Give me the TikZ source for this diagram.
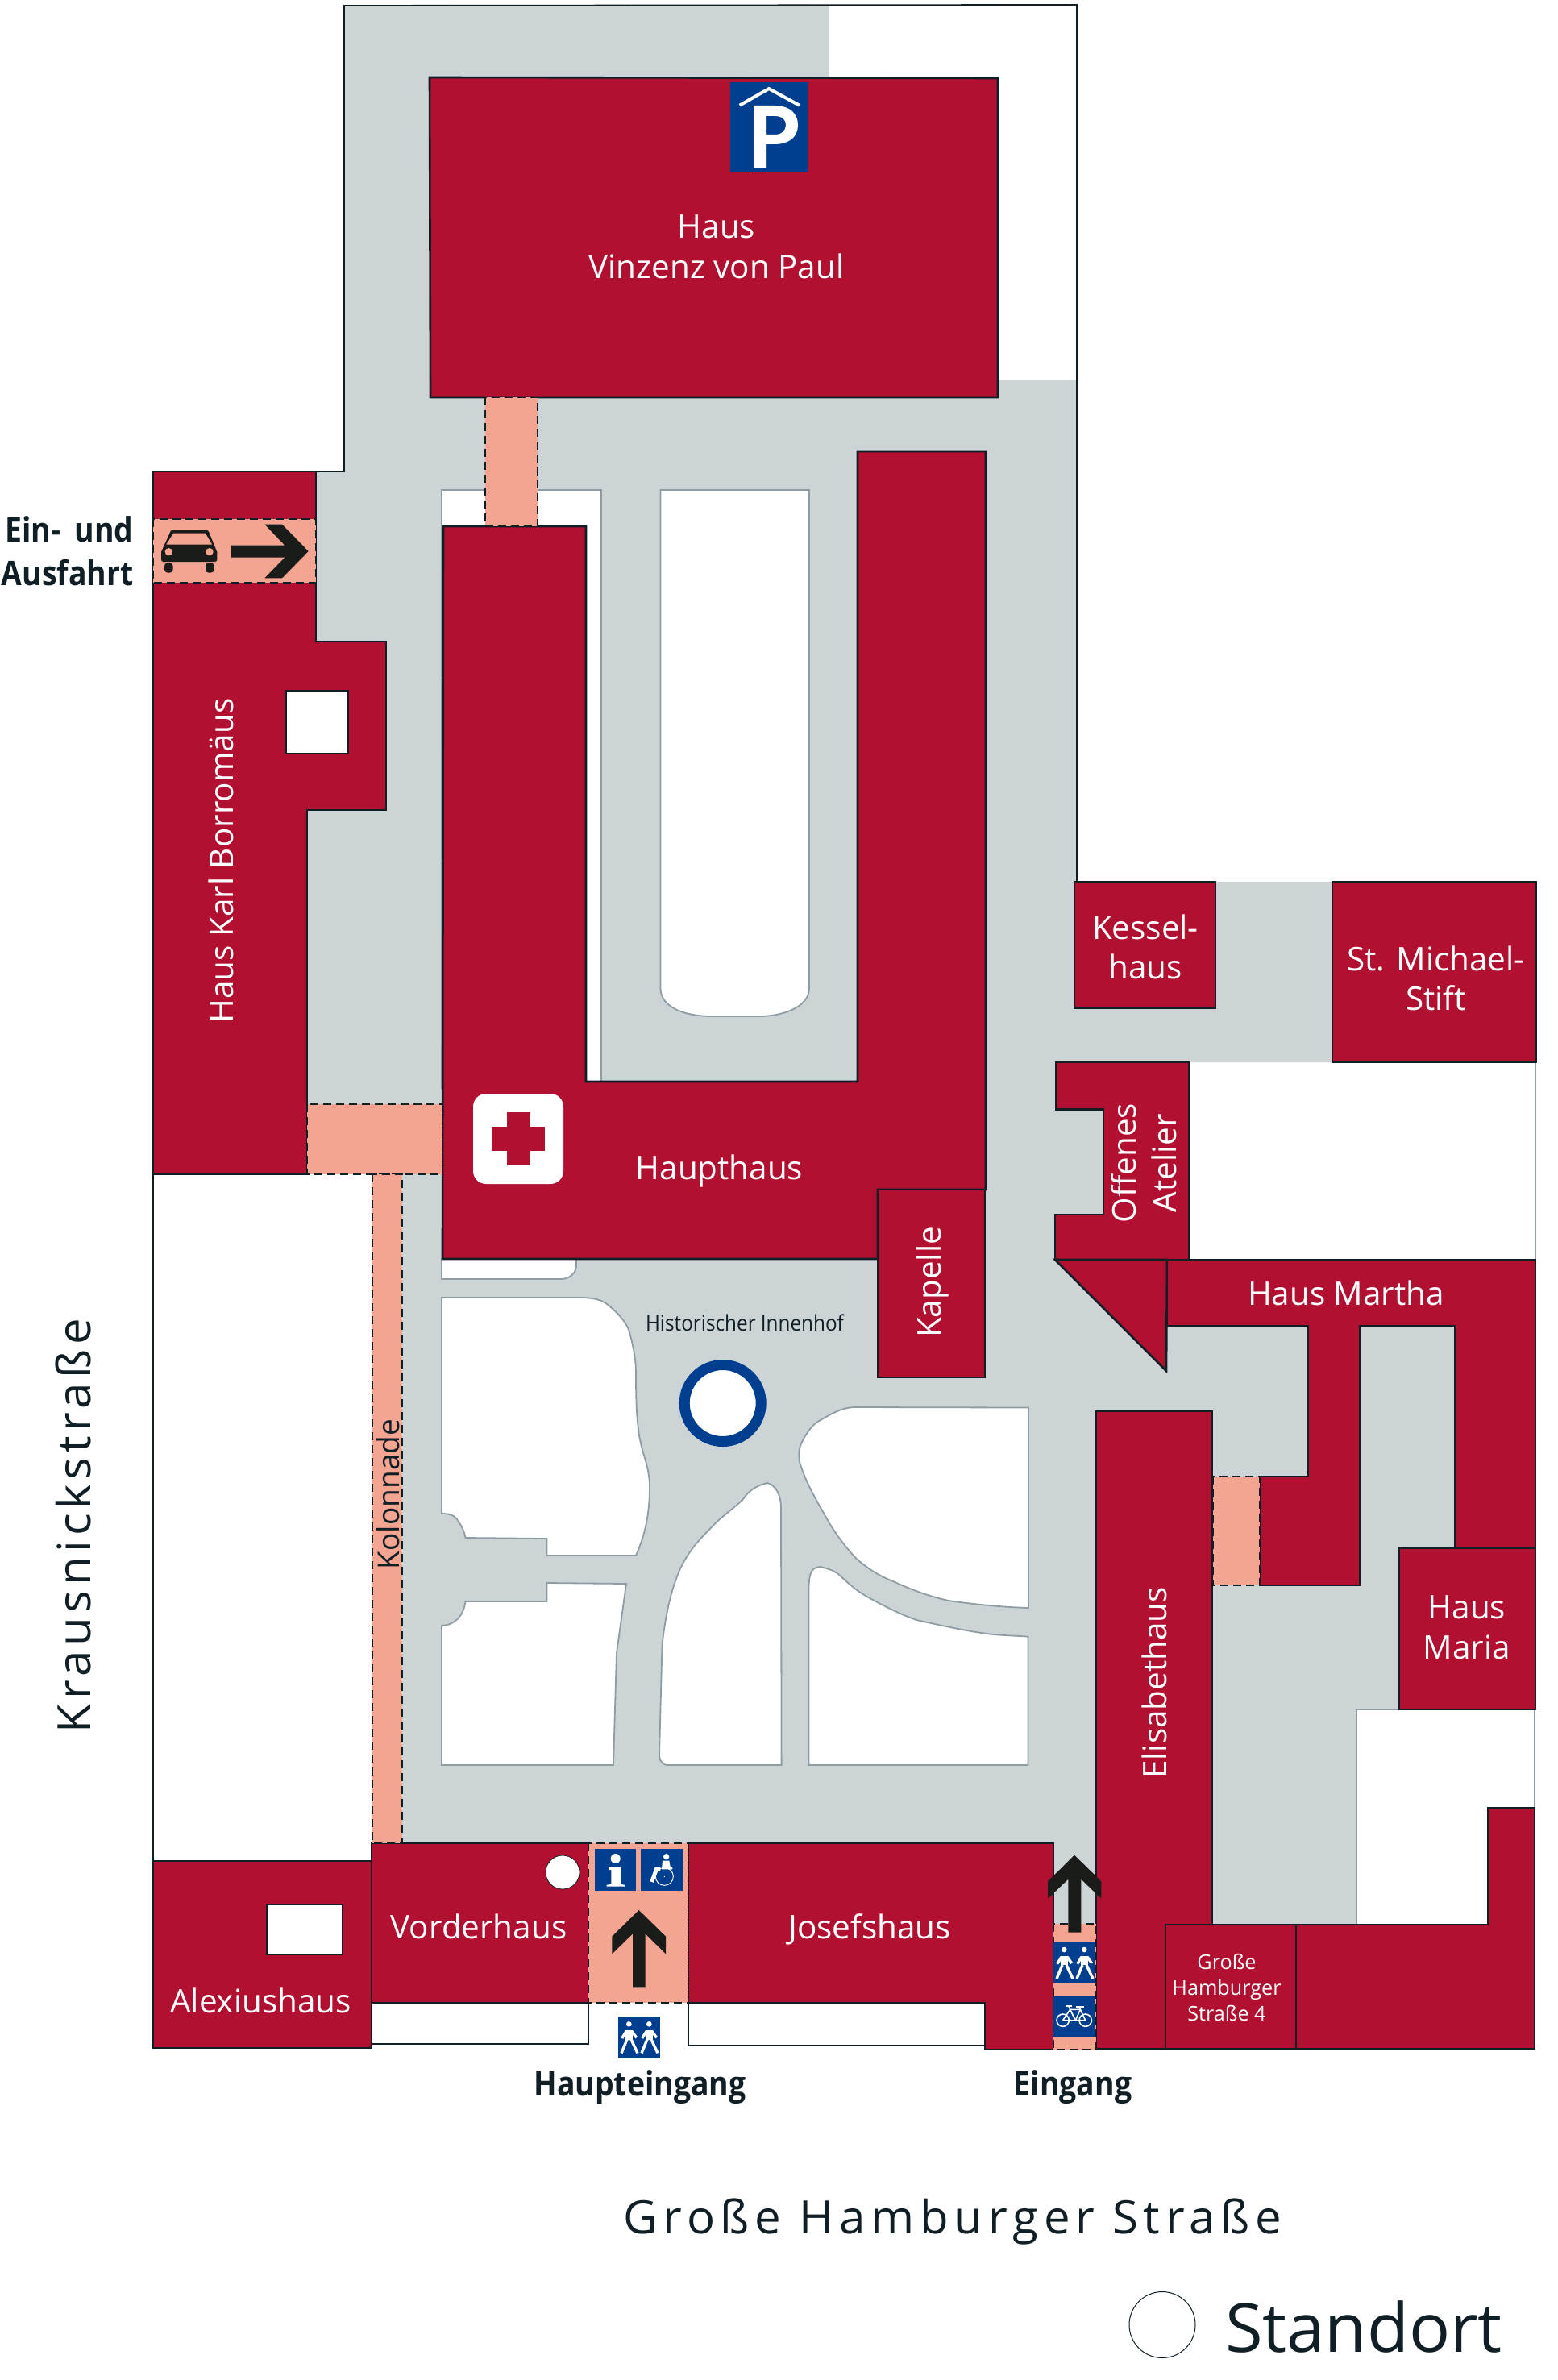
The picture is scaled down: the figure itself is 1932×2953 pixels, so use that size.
\documentclass[tikz,border=0pt]{standalone}
\usepackage{fontspec}
\setmainfont{Open Sans}
\newfontfamily\labfam[FakeStretch=1.0]{Open Sans}
\newfontfamily\boldfam[FakeStretch=0.89]{Open Sans Bold}
\newfontfamily\widefam[LetterSpace=12,FakeStretch=1.02]{Open Sans}
\newfontfamily\sidefam[LetterSpace=10,FakeStretch=1.02]{Open Sans}
\newfontfamily\plainfam[FakeStretch=0.9]{Open Sans}
\newfontfamily\standfam[FakeStretch=1.01]{Open Sans}
\usetikzlibrary{arrows.meta}
\definecolor{wine}{HTML}{B11030}
\definecolor{yard}{HTML}{CCD4D6}
\definecolor{peach}{HTML}{F3A592}
\definecolor{signblue}{HTML}{003F8F}
\definecolor{inkline}{HTML}{101E26}
\definecolor{arrowink}{HTML}{1A1C1A}
\definecolor{yardline}{HTML}{8E9DA4}
\tikzset{
  bldg/.style={fill=wine,draw=inkline,line width=1.3pt,line join=miter},
  lawn/.style={fill=white,draw=yardline,line width=0.9pt},
  paved/.style={fill=peach,draw=inkline,line width=1.1pt,dash pattern=on 5pt off 3pt},
  hole/.style={fill=white,draw=inkline,line width=1.3pt},
  lab/.style={text=white,inner sep=0pt,align=center,font=\labfam\fontsize{20.2}{24.8}\selectfont},
  smalllab/.style={text=white,inner sep=0pt,align=center,font=\labfam\fontsize{12.6}{15.8}\selectfont},
  darklab/.style={text=inkline,inner sep=0pt,font=\plainfam\fontsize{13.5}{16}\selectfont,text depth=0pt},
  boldlab/.style={text=inkline,inner sep=0pt,font=\boldfam\fontsize{21}{27}\selectfont},
  streetlab/.style={text=inkline,inner sep=0pt,font=\widefam\fontsize{28.5}{34}\selectfont,text depth=0pt},
  sidelab/.style={text=inkline,inner sep=0pt,font=\sidefam\fontsize{28.5}{34}\selectfont,text depth=0pt},
  standlab/.style={text=inkline,inner sep=0pt,font=\standfam\fontsize{42}{50}\selectfont,text depth=0pt},
  signbox/.style={fill=signblue},
  arrowfill/.style={fill=arrowink},
  thinwhite/.style={draw=white,line width=0.8pt},
  limb/.style={draw=white,line width=1.7pt,line cap=butt,line join=round}
}
\newcommand{\walkersicon}{%
  \fill[signbox] (0,0) rectangle (155,154);
  \foreach \dx in {0,75}{
    \begin{scope}[shift={(\dx,0)}]
    \fill[white] (40,27) circle (10);
    \fill[white] (28,50) rectangle (53,85);
    \draw[limb] (14,80) -- (30,54);
    \draw[limb] (51,54) -- (68,78);
    \draw[limb] (33,84) -- (12,135);
    \draw[limb] (48,84) -- (72,135);
    \end{scope}
  }
}
\begin{document}
\begin{tikzpicture}[x=0.5pt,y=-0.5pt]
\useasboundingbox (0,0) rectangle (1932,2953);
\fill[white] (0,0) rectangle (1932,2953);
% ground
\fill[yard] (427,7) -- (1028,7) -- (1028,120) -- (1238,120) -- (1238,472) -- (1336,472) -- (1336,1094)
  -- (1700,1094) -- (1700,1318) -- (1473,1318) -- (1473,1563) -- (1904,1563) -- (1904,2121) -- (1683,2121)
  -- (1683,2388) -- (1305,2388) -- (1305,2300) -- (462,2300) -- (462,1457) -- (381,1457) -- (381,1005)
  -- (392,800) -- (392,585) -- (427,585) -- cycle;
\draw[inkline,line width=0.9pt] (392,585) -- (427,585) -- (427,7) -- (1336,6) -- (1336,1094);
\draw[inkline,line width=0.9pt] (190,1457) -- (190,2309);
\draw[yardline,line width=0.9pt] (1905,1318) -- (1905,1563);
% lawns
\draw[lawn] (548,608) rectangle (746,1350);
\draw[lawn] (819.5,608) -- (1004,608) -- (1004,1226) .. controls (1004,1248) and (975,1260) .. (945,1261)
  -- (880,1261) .. controls (845,1260) and (819.5,1248) .. (819.5,1226) -- cycle;
\draw[lawn] (548,1562) -- (715,1562) -- (715,1570) .. controls (715,1580) and (706,1587) .. (696,1587) -- (548,1587) -- cycle;
\draw[lawn] (548,1610) -- (718,1610) .. controls (735,1610) and (745,1612) .. (753,1618)
  .. controls (768,1630) and (778,1642) .. (781,1653) .. controls (787,1675) and (789,1690) .. (789,1704)
  .. controls (789,1740) and (790,1760) .. (793,1781) .. controls (797,1805) and (806,1820) .. (806,1845)
  .. controls (806,1880) and (800,1905) .. (789,1930) -- (678.5,1930) -- (678.5,1909) -- (577.5,1908)
  .. controls (575,1895) and (570,1890) .. (567,1885) .. controls (563,1879) and (556,1878) .. (548,1878) -- cycle;
\draw[lawn] (678.5,1964) -- (777,1965) -- (765,2051) -- (761,2190) -- (548,2190) -- (548,2017)
  .. controls (565,2016) and (575,2005) .. (577.5,1987) -- (678.5,1987) -- cycle;
\draw[lawn] (830,2190) -- (969.6,2190) -- (969,1872) .. controls (969,1855) and (963,1843) .. (952,1840)
  .. controls (940,1843) and (930,1848) .. (922,1860) .. controls (910,1872) and (900,1878) .. (887.5,1890)
  .. controls (870,1908) and (860,1918) .. (850,1935) .. controls (835,1960) and (826,2000) .. (821.5,2041)
  -- (818,2178) .. controls (818,2185) and (823,2191) .. (830,2190) -- cycle;
\draw[lawn] (1060,1746) -- (1276,1746.5) -- (1276,1995) .. controls (1240,1994) and (1205,1990) .. (1177,1986)
  .. controls (1150,1980) and (1130,1972) .. (1108,1962) .. controls (1090,1955) and (1075,1945) .. (1062.6,1934)
  .. controls (1045,1915) and (1035,1900) .. (1028,1888) .. controls (1012,1860) and (1000,1840) .. (992,1814)
  .. controls (990,1800) and (992,1795) .. (997,1785) .. controls (1005,1772) and (1010,1766) .. (1018,1762)
  .. controls (1030,1755) and (1045,1746) .. (1060,1746) -- cycle;
\draw[lawn] (1003.4,2190) -- (1275.5,2190) -- (1275.5,2030.6) .. controls (1250,2029) and (1235,2029) .. (1217.6,2026)
  .. controls (1190,2022) and (1160,2015) .. (1137,2010) .. controls (1115,2002) and (1095,1992) .. (1074,1980)
  .. controls (1060,1972) and (1050,1962) .. (1040,1953) .. controls (1032,1947) and (1025,1946) .. (1018,1944)
  .. controls (1008,1945) and (1003.4,1948) .. (1003.4,1975) -- cycle;
\draw[lawn] (1683,2121) rectangle (1904,2388);
% sculpture ring
\draw[draw=signblue,fill=white,line width=6.5pt] (896.7,1741) circle (47.5);
% buildings
\draw[bldg] (533,96) -- (1238,97) -- (1238,493) -- (534,493) -- cycle;
\draw[bldg] (550,653) -- (727,653) -- (727,1342) -- (1064,1342) -- (1064,560) -- (1223,560) -- (1223,1476)
  -- (1089,1476) -- (1089,1562) -- (549,1562) -- cycle;
\draw[bldg] (1089,1476) rectangle (1222,1709);
\draw[bldg] (190,585) -- (392,585) -- (392,796) -- (479,796) -- (479,1005) -- (381,1005) -- (381,1457) -- (190,1457) -- cycle;
\draw[hole] (355,857) rectangle (432,935);
\draw[bldg] (1333,1094) rectangle (1508,1250.5);
\draw[bldg] (1653,1094) rectangle (1906,1318);
\draw[bldg] (1310,1318) -- (1475,1318) -- (1475,1563) -- (1309,1563) -- (1309,1507) -- (1369,1507) -- (1369,1376.5) -- (1310,1376.5) -- cycle;
\draw[bldg] (1309,1563) -- (1448,1563) -- (1447,1701) -- cycle;
\draw[bldg] (1448,1563) -- (1905,1563) -- (1905,1921) -- (1805,1921) -- (1805,1645) -- (1687,1645) -- (1687,1967)
  -- (1563,1967) -- (1563,1832) -- (1623,1832) -- (1623,1645) -- (1448,1645) -- cycle;
\draw[bldg] (1736,1921) rectangle (1905,2121);
\draw[bldg] (1360,1751) -- (1504,1751) -- (1504,2388) -- (1446,2388) -- (1446,2542) -- (1360,2542) -- cycle;
\draw[bldg] (1446,2388) rectangle (1608,2542);
\draw[bldg] (1608,2388) -- (1846,2388) -- (1846,2243) -- (1904,2243) -- (1904,2542) -- (1608,2542) -- cycle;
\draw[bldg] (190,2309) -- (461,2309) -- (461,2541) -- (190,2541) -- cycle;
\draw[hole] (331,2363) rectangle (425,2425);
\draw[hole] (461,2485) rectangle (730,2536);
\draw[hole] (854,2485) rectangle (1222,2538);
\draw[bldg] (461,2287) rectangle (730,2485);
\draw[bldg] (854,2287) -- (1307,2287) -- (1307,2543) -- (1222,2543) -- (1222,2485) -- (854,2485) -- cycle;
\fill[white,draw=inkline,line width=0.4pt] (698,2323) circle (21);
% passages
\draw[paved] (602,493) rectangle (667,653);
\draw[paved] (190,644) rectangle (392,723);
\draw[paved] (381,1370) rectangle (549,1457);
\draw[paved] (462,1457) rectangle (499,2287);
\draw[paved] (1505,1832) rectangle (1563,1967);
\draw[paved] (730,2287) rectangle (854,2485);
\draw[paved] (1307,2387) rectangle (1360,2543);
% parking sign
\fill[signbox] (906,102) rectangle (1003,214);
\draw[white,line width=2pt] (917.7,130.7) -- (954,110) -- (991.7,130.7);
\fill[white,even odd rule] (935,131) -- (961,131) .. controls (981,131) and (990,142) .. (990,155)
  .. controls (990,170) and (979,179) .. (961,179) -- (950,179) -- (950,209) -- (935,209) -- cycle
  (950,144) -- (961,144) .. controls (971,144) and (975,149) .. (975,155)
  .. controls (975,162) and (970,167) .. (961,167) -- (950,167) -- cycle;
% first-aid sign
\fill[white,rounded corners=8pt] (587,1357) rectangle (699,1469);
\fill[wine] (629,1380) rectangle (658,1446);
\fill[wine] (610,1398) rectangle (676,1428);
% car and arrow
\begin{scope}[shift={(0,560)},scale=1/3]
  \fill[arrowink,even odd rule] (600,375) -- (635,297) .. controls (637,294) and (640,293) .. (645,293) -- (765,293)
    .. controls (772,293) and (775,295) .. (777,299) -- (808,375) -- (808,402) .. controls (808,408) and (805,411) .. (800,411)
    -- (608,411) .. controls (603,411) and (600,408) .. (600,402) -- cycle
    (645,305) -- (765,305) -- (790,347) -- (618,347) -- cycle;
  \fill[peach] (628,374) circle (14);
  \fill[peach] (780,374) circle (14);
  \fill[arrowink,rounded corners=2pt] (612,415) rectangle (644,452);
  \fill[arrowink,rounded corners=2pt] (765,415) rectangle (797,452);
  \fill[arrowfill] (860,350) -- (1060,350) -- (985,272) -- (1050,272) -- (1148,372) -- (1050,472) -- (985,472) -- (1060,395) -- (860,395) -- cycle;
\end{scope}
% main entrance signs
\begin{scope}[shift={(641,2280)},scale=1/3]
  \fill[signbox] (292,43) rectangle (445,197);
  \fill[white] (368,78) circle (18);
  \fill[white] (342,110) -- (387,110) -- (387,174) -- (402,176) -- (402,182) -- (335,182) -- (335,176) -- (352,174) -- (352,120) -- (342,120) -- cycle;
  \fill[signbox] (463,43) rectangle (617,197);
  \fill[white] (557,71) circle (11);
  \fill[white] (543,86) -- (568,86) -- (572,108) -- (580,110) -- (580,118) -- (540,118) -- cycle;
  \draw[white,line width=0.5pt] (550,145) circle (33);
  \fill[white] (550,145) circle (2);
  \draw[white,line width=2.4pt] (535,118) -- (520,118) -- (503,165);
  \fill[arrowfill] (455,270) -- (555,368) -- (555,433) -- (479,358) -- (479,559) -- (432,559) -- (432,358) -- (355,433) -- (355,368) -- cycle;
  \begin{scope}[shift={(378,667)}] \walkersicon \end{scope}
\end{scope}
% side entrance signs
\begin{scope}[shift={(1281,2290)},scale=1/3]
  \begin{scope}[shift={(78,360)}] \walkersicon \end{scope}
  \fill[signbox] (78,560) rectangle (233,712);
  \draw[thinwhite] (113,650) circle (23);
  \draw[thinwhite] (197,650) circle (23);
  \draw[thinwhite] (113,650) -- (140,610) -- (178,610) -- (197,650) -- (160,650) -- (140,610);
  \draw[thinwhite] (113,650) -- (160,650) -- (178,610) -- (172,598);
  \draw[thinwhite] (163,600) -- (192,600);
  \draw[thinwhite] (140,610) -- (135,598);
  \draw[thinwhite] (127,597) -- (148,597);
  \fill[arrowfill] (156,35) -- (256,133) -- (256,197) -- (181,125) -- (181,323) -- (133,323) -- (133,125) -- (57,197) -- (57,133) -- cycle;
\end{scope}
% labels
\node[lab] (lVinzenz) at (889,306) {Haus\\Vinzenz von Paul};
\node[lab] (lHaupthaus) at (892.5,1453) {Haupthaus};
\node[lab,rotate=90] (lKapelle) at (1157,1591) {Kapelle};
\node[lab,rotate=90] (lBorromaeus) at (274,1068) {Haus Karl Borromäus};
\node[lab] (lKessel) at (1421,1175) {Kessel-\\haus};
\node[lab] (lMichael) at (1781.6,1214) {St. Michael-\\Stift};
\node[lab,rotate=90] (lAtelier) at (1419.5,1443) {Offenes\\Atelier};
\node[lab] (lMartha) at (1670,1604) {Haus Martha};
\node[lab] (lMaria) at (1820,2019) {Haus\\Maria};
\node[lab,rotate=90] (lElisabeth) at (1432,2088) {Elisabethaus};
\node[smalllab] (lGrosse) at (1522,2466) {Große\\Hamburger\\Straße 4};
\node[lab] (lVorderhaus) at (594,2390) {Vorderhaus};
\node[lab] (lJosefshaus) at (1079,2394) {Josefshaus};
\node[lab] (lAlexius) at (323.5,2482) {Alexiushaus};
\node[darklab] (lInnenhof) at (924,1641) {Historischer Innenhof};
\node[text=inkline,inner sep=0pt,font=\labfam\fontsize{18.5}{22}\selectfont,rotate=90] (lKolonnade) at (482,1854) {Kolonnade};
\node[boldlab,align=right,anchor=east] (lEinfahrt) at (166,684) {Ein-\hspace{4pt} und\\Ausfahrt};
\node[boldlab,text depth=0pt] (lHaupteingang) at (794,2585) {Haupteingang};
\node[boldlab,text depth=0pt] (lEingang) at (1331,2585) {Eingang};
\node[sidelab,rotate=90] (lKrausnick) at (91,1893) {Krausnickstraße};
\node[streetlab] (lHamburger) at (1182,2750) {Große Hamburger Straße};
\draw[inkline,line width=0.5pt,fill=white] (1442,2884.5) circle (41);
\node[standlab] (lStandort) at (1692,2887) {Standort};
\end{tikzpicture}
\end{document}
